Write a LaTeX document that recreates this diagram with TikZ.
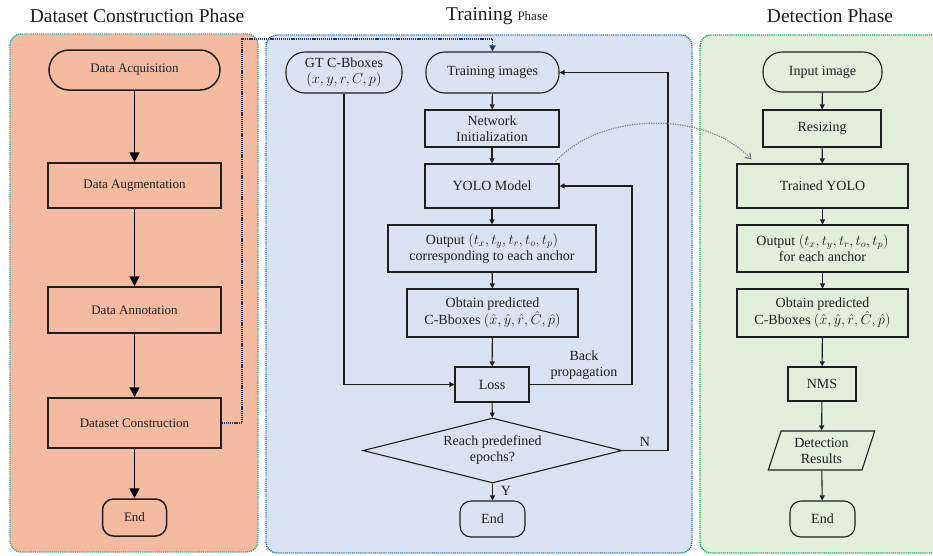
\documentclass[tikz,border=0pt]{standalone}
\usepackage{fontspec}
\setmainfont{Liberation Serif}
\usetikzlibrary{arrows.meta,shapes.geometric,calc}
\definecolor{orfill}{HTML}{F5BBA0}
\definecolor{blfill}{HTML}{DAE3F3}
\definecolor{grfill}{HTML}{E2EFDA}
\definecolor{orborder}{HTML}{2AA8A8}
\definecolor{blborder}{HTML}{2E75B6}
\definecolor{grborder}{HTML}{00B050}
\definecolor{navy}{HTML}{203864}
\definecolor{ink}{HTML}{1E1E1E}
\tikzset{
  panel/.style={rounded corners=11pt, line width=1.4pt, dash pattern=on 1.2pt off 0.9pt},
  base/.style={draw=ink, text=ink, inner sep=2pt, align=center, font=\fontsize{13}{15}\selectfont},
  obox/.style={base, line width=1.5pt, rectangle},
  ostad/.style={base, line width=1.5pt, rounded corners=20pt},
  sbox/.style={base, line width=1.1pt, rectangle, font=\fontsize{14}{16}\selectfont},
  sstad/.style={base, line width=1.1pt, rounded corners=19pt, font=\fontsize{14}{16}\selectfont},
  oarrow/.style={draw=black, line width=1.6pt, -{Triangle[length=10pt,width=10pt]}},
  sarrow/.style={draw=ink, line width=1.1pt, -{Triangle[length=5pt,width=5pt]}},
  lbl/.style={text=ink, align=center, font=\fontsize{14}{16}\selectfont, inner sep=0pt},
  ttl/.style={text=ink, font=\fontsize{19.5}{22}\selectfont, inner sep=0pt}
}
\begin{document}
\begin{tikzpicture}[x=1pt,y=-1pt]
\clip (0,0) rectangle (933,555);
\fill[white] (0,0) rectangle (933,555);
% panels
\draw[panel, fill=orfill, draw=orborder] (10,34) rectangle (258,552);
\draw[panel, fill=blfill, draw=blborder] (266,35) rectangle (692,553);
\draw[panel, fill=grfill, draw=grborder] (700,35) rectangle (945,553);
% titles
\node[ttl] (t1) at (137,16) {Dataset Construction Phase};
\node[ttl] (t2) at (497,16) {Training {\fontsize{13}{15}\selectfont Phase}};
\node[ttl] (t3) at (830,16) {Detection Phase};
% dataset construction phase
\node[ostad, minimum width=171pt, minimum height=40pt] (acq) at (134.5,70) {Data Acquisition};
\node[obox, minimum width=173pt, minimum height=45pt] (aug) at (134.5,185.5) {Data Augmentation};
\node[obox, minimum width=173pt, minimum height=46pt] (ann) at (134.5,310) {Data Annotation};
\node[obox, minimum width=173pt, minimum height=50pt] (dsc) at (134.5,423) {Dataset Construction};
\node[obox, rounded corners=11pt, minimum width=64pt, minimum height=37pt] (end1) at (134.5,517.5) {End};
\draw[oarrow] (acq) -- (aug);
\draw[oarrow] (aug) -- (ann);
\draw[oarrow] (ann) -- (dsc);
\draw[oarrow] (dsc) -- (end1);
% training phase
\node[sstad, minimum width=116pt, minimum height=41pt] (gt) at (344,72.5) {GT C-Bboxes\\$(x,y,r,C,p)$};
\node[sstad, minimum width=133pt, minimum height=41pt] (tri) at (492.5,72.5) {Training images};
\node[sbox, minimum width=134pt, minimum height=37pt] (net) at (492,128.5) {Network\\Initialization};
\node[sbox, minimum width=134pt, minimum height=44pt] (yolo) at (492,186) {YOLO Model};
\node[sbox, minimum width=208pt, minimum height=47pt] (out) at (492,248.5) {Output $(t_x,t_y,t_r,t_o,t_p)$\\corresponding to each anchor};
\node[sbox, minimum width=171pt, minimum height=48pt] (obt) at (492.5,313) {Obtain predicted\\C-Bboxes $(\hat{x},\hat{y},\hat{r},\hat{C},\hat{p})$};
\node[sbox, minimum width=74pt, minimum height=35pt] (loss) at (492,384.5) {Loss};
\node[base, line width=1.1pt, diamond, shape aspect=4, inner sep=0pt, minimum width=259pt, minimum height=65pt, font=\fontsize{14}{16}\selectfont] (dia) at (492.5,450.5) {Reach predefined\\epochs?};
\node[sbox, rounded corners=11pt, minimum width=65pt, minimum height=36pt] (end2) at (492.5,519) {End};
\draw[sarrow] (tri) -- (net);
\draw[sarrow] (net) -- (yolo);
\draw[sarrow] (yolo) -- (out);
\draw[sarrow] (out) -- (obt);
\draw[sarrow] (obt) -- (loss);
\draw[sarrow] (loss) -- (dia);
\draw[sarrow] (dia) -- (end2);
\draw[sarrow] (gt.south) |- (loss.west);
\coordinate (bp) at (632,300);
\draw[sarrow] (loss.east) -| (bp) |- (yolo.east);
\coordinate (nl) at (668,300);
\draw[sarrow] (dia.east) -| (nl) |- (tri.east);
\node[lbl] (bpl) at (584,365) {Back\\propagation};
\node[lbl] (nlab) at (645,442) {N};
\node[lbl] (ylab) at (506,491) {Y};
% navy dotted connector
\coordinate (d1) at (242,39);
\draw[draw=navy, line width=1.3pt, dash pattern=on 1.2pt off 0.9pt, -{Triangle[length=6pt,width=6pt]}] (dsc.east) -| (d1) -| (tri.north);
% detection phase
\node[sstad, minimum width=119pt, minimum height=40pt] (inp) at (822.5,72) {Input image};
\node[sbox, minimum width=118pt, minimum height=37pt] (res) at (822,128.5) {Resizing};
\node[sbox, minimum width=171pt, minimum height=44pt] (tyolo) at (822.5,186) {Trained YOLO};
\node[sbox, minimum width=171pt, minimum height=47pt] (out2) at (822.5,248.5) {Output $(t_x,t_y,t_r,t_o,t_p)$\\for each anchor};
\node[sbox, minimum width=171pt, minimum height=48pt] (obt2) at (822.5,313) {Obtain predicted\\C-Bboxes $(\hat{x},\hat{y},\hat{r},\hat{C},\hat{p})$};
\node[sbox, minimum width=68pt, minimum height=34pt] (nms) at (822,384) {NMS};
\node[base, line width=1.1pt, trapezium, trapezium left angle=72, trapezium right angle=108, trapezium stretches=true, inner sep=1pt, minimum width=107pt, minimum height=39pt, font=\fontsize{14}{16}\selectfont] (det) at (821.5,450.5) {Detection\\Results};
\node[sbox, rounded corners=11pt, minimum width=65pt, minimum height=36pt] (end3) at (822.5,519) {End};
\draw[sarrow] (inp) -- (res);
\draw[sarrow] (res) -- (tyolo);
\draw[sarrow] (tyolo) -- (out2);
\draw[sarrow] (out2) -- (obt2);
\draw[sarrow] (obt2) -- (nms);
\draw[sarrow] (nms) -- (det);
\draw[sarrow] (det) -- (end3);
% gray dotted curve
\draw[draw=gray, line width=1.2pt, dash pattern=on 1.2pt off 1.2pt, -{Straight Barb[length=5pt,width=7pt]}] ([xshift=-4pt,yshift=2pt]yolo.north east) .. controls (600,112) and (705,110) .. ([xshift=15pt,yshift=4pt]tyolo.north west);
\end{tikzpicture}
\end{document}
